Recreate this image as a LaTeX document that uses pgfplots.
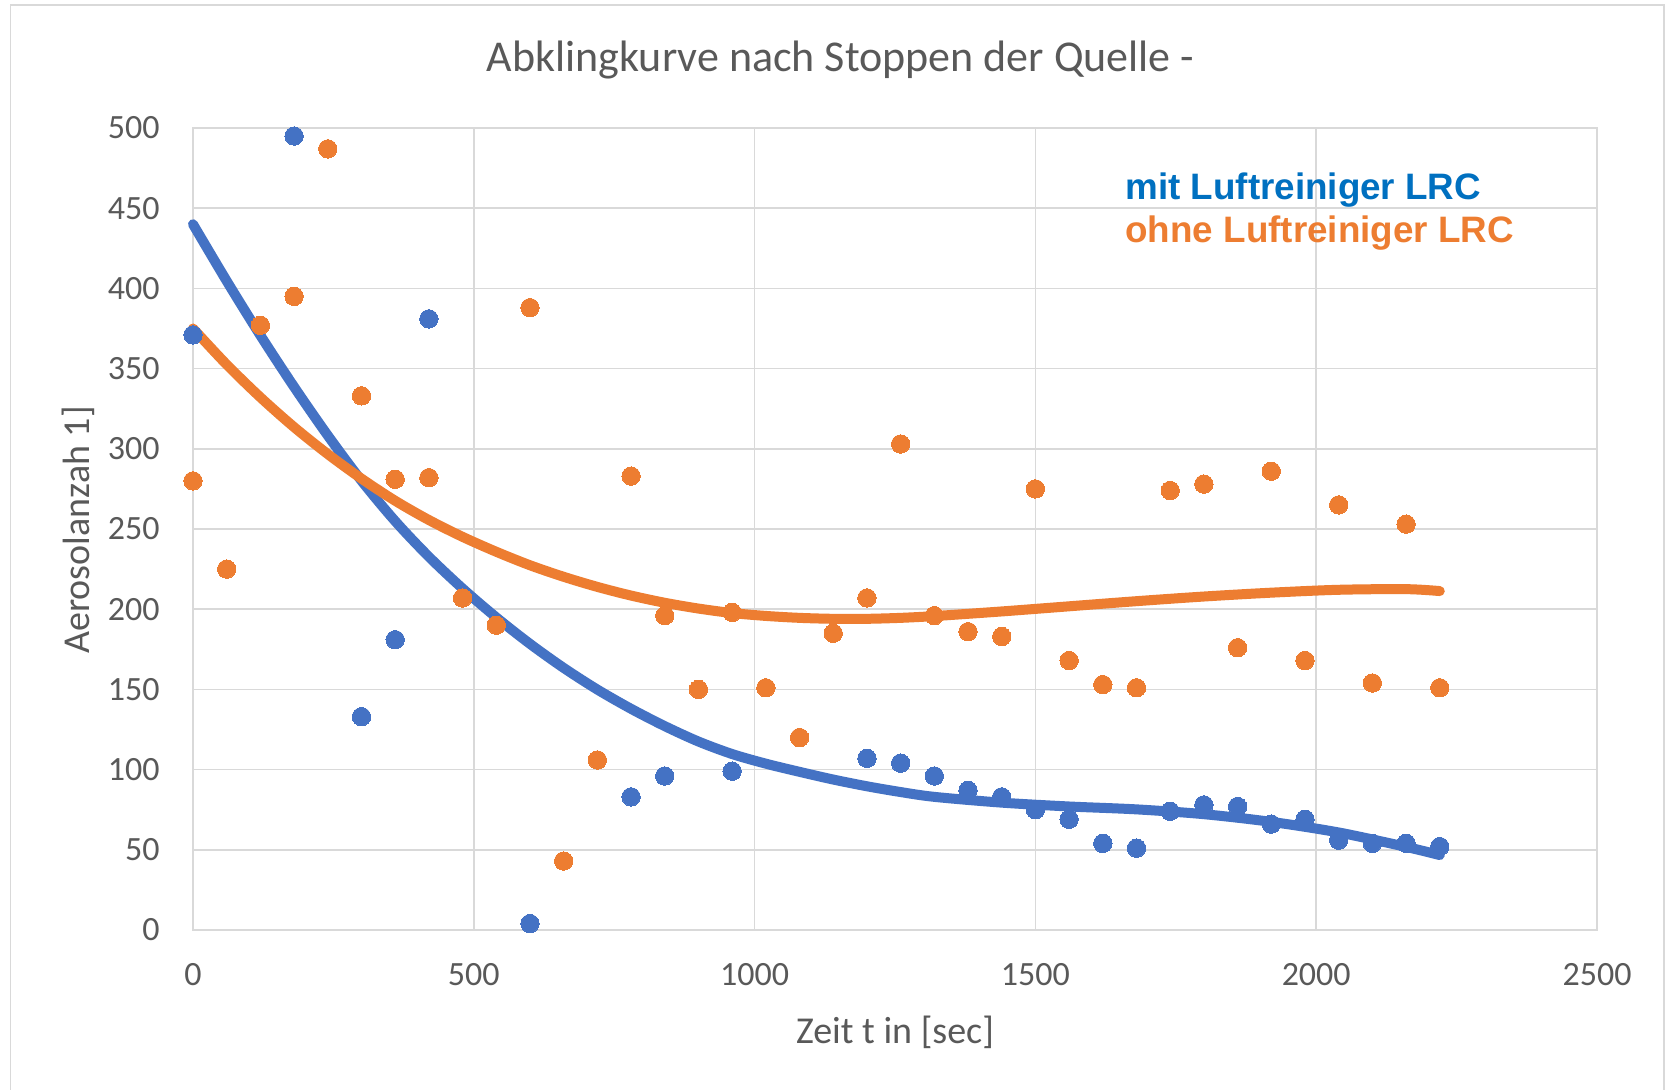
\documentclass[border=0pt]{standalone}
\usepackage{fontspec}
\setmainfont{Carlito}
\newfontfamily\legfont{Liberation Sans}
\usepackage{pgfplots}
\pgfplotsset{compat=1.18}
\definecolor{mblue}{HTML}{4472C4}
\definecolor{morange}{HTML}{ED7D31}
\definecolor{lblue}{HTML}{0070C0}
\definecolor{txtgray}{HTML}{595959}
\definecolor{gridgray}{HTML}{D9D9D9}
\begin{document}
\begin{tikzpicture}
\useasboundingbox (0,0) rectangle (836.5pt,545pt);
\fill[white] (0,0) rectangle (836.5pt,545pt);
\draw[gridgray, line width=0.75pt] (5.3pt,-5pt) -- (5.3pt,542.5pt) -- (832pt,542.5pt) -- (832pt,-5pt);
\begin{axis}[
  at={(96.5pt,80pt)}, anchor=south west,
  scale only axis, width=702pt, height=401pt,
  xmin=0, xmax=2500, ymin=0, ymax=500,
  xtick={0,500,...,2500}, ytick={0,50,...,500},
  major tick length=0pt,
  grid=major,
  major grid style={gridgray, line width=0.75pt},
  axis line style={gridgray, line width=0.75pt},
  /pgf/number format/assume math mode=true,
  /pgf/number format/1000 sep={},
  ticklabel style={font=\fontsize{17pt}{20pt}\selectfont, text=txtgray, inner sep=0pt},
  yticklabel style={anchor=east, xshift=-16.5pt},
  xticklabel style={anchor=north, yshift=-16.7pt},
  clip=false,
]
% mit Luftreiniger (blue points)
\addplot[only marks, color=mblue, mark=*, mark size=4.6pt, mark options={draw=mblue, fill=mblue, line width=0pt}] coordinates {
(0,371) (180,495) (300,133) (360,181) (420,381) (600,4) (780,83) (840,96) (960,99)
(1200,107) (1260,104) (1320,96) (1380,87) (1440,83) (1500,75) (1560,69) (1620,54)
(1680,51) (1740,74) (1800,78) (1860,77) (1920,66) (1980,69) (2040,56) (2100,54)
(2160,54) (2220,52)
};
% ohne Luftreiniger (orange points)
\addplot[only marks, color=morange, mark=*, mark size=4.6pt, mark options={draw=morange, fill=morange, line width=0pt}] coordinates {
(0,280) (60,225) (120,377) (180,395) (240,487) (300,333) (360,281) (420,282)
(480,207) (540,190) (600,388) (660,43) (720,106) (780,283) (840,196) (900,150)
(960,198) (1020,151) (1080,120) (1140,185) (1200,207) (1260,303) (1320,196)
(1380,186) (1440,183) (1500,275) (1560,168) (1620,153) (1680,151) (1740,274)
(1800,278) (1860,176) (1920,286) (1980,168) (2040,265) (2100,154) (2160,253)
(2220,151)
};
% trend lines
\addplot[mblue, line width=5pt, line cap=round, smooth, tension=0.5] coordinates {
(0,440) (60,404.6) (120,370.7) (180,338.6) (240,308.3) (300,280.1) (360,254.9)
(420,232.7) (480,212.9) (540,194.9) (600,178.4) (660,163.4) (720,149.9) (780,137.9)
(840,127.1) (900,117.5) (960,109.7) (1020,103.7) (1080,98.6) (1140,93.8) (1200,89.6)
(1260,86) (1320,83) (1440,79.4) (1560,77) (1680,75.2) (1800,72.2) (1920,67.4)
(2040,60.8) (2160,51.8) (2220,46.7)
};
\addplot[morange, line width=5pt, line cap=round, smooth, tension=0.5] coordinates {
(0,375) (60,352.5) (120,332.1) (180,313.5) (240,296.7) (300,281.4) (360,267.6)
(420,255.6) (480,245.1) (540,235.8) (600,227.4) (660,220.2) (720,213.9) (780,208.5)
(840,204) (900,200.4) (960,197.6) (1020,195.8) (1080,194.6) (1140,194) (1200,194)
(1260,194.6) (1320,195.7) (1440,198.6) (1560,201.8) (1680,205) (1800,207.9)
(1920,210.3) (2040,212.1) (2160,212.5) (2220,211.3)
};
\end{axis}
\node[anchor=base, inner sep=0pt, text=txtgray, font=\fontsize{22pt}{26pt}\selectfont] at (420.3pt,509.2pt) {Abklingkurve nach Stoppen der Quelle -};
\node[anchor=base, inner sep=0pt, text=txtgray, font=\fontsize{19pt}{22pt}\selectfont] at (447.5pt,23.3pt) {Zeit t in [sec]};
\node[anchor=base, rotate=90, inner sep=0pt, text=txtgray, font=\fontsize{19pt}{22pt}\selectfont] at (44.5pt,280pt) {Aerosolanzah 1]};
\node[anchor=base west, inner sep=0pt, text=lblue, font=\legfont\bfseries\fontsize{18.4pt}{22pt}\selectfont] at (562.5pt,445.3pt) {mit Luftreiniger LRC};
\node[anchor=base west, inner sep=0pt, text=morange, font=\legfont\bfseries\fontsize{18.4pt}{22pt}\selectfont] at (562.5pt,423.7pt) {ohne Luftreiniger LRC};
\end{tikzpicture}
\end{document}
